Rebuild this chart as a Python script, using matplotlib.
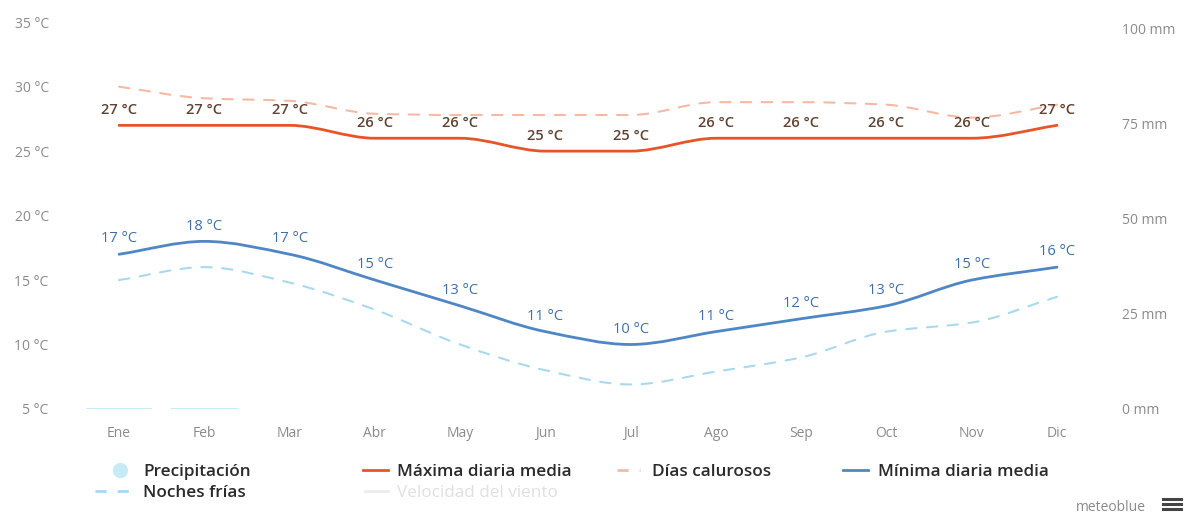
import matplotlib
matplotlib.use("Agg")
import matplotlib.pyplot as plt
import numpy as np
from matplotlib.path import Path
from matplotlib.patches import PathPatch
from matplotlib.lines import Line2D

plt.rcParams['font.family'] = ['Open Sans', 'DejaVu Sans']

months = ["Ene", "Feb", "Mar", "Abr", "May", "Jun", "Jul", "Ago", "Sep", "Oct", "Nov", "Dic"]
max_diaria = [27, 27, 27, 26, 26, 25, 25, 26, 26, 26, 26, 27]
min_diaria = [17, 18, 17, 15, 13, 11, 10, 11, 12, 13, 15, 16]
dias_calurosos = [30, 29.1, 28.9, 27.9, 27.8, 27.8, 27.8, 28.8, 28.8, 28.6, 27.6, 28.6]
noches_frias = [15, 16, 14.8, 12.7, 10, 8, 6.9, 7.9, 9, 11, 11.7, 13.7]
precipitacion = [0.3, 0.3, 0, 0, 0, 0, 0, 0, 0, 0, 0, 0]

c_max = "#e8542a"
c_min = "#4f86c6"
c_hot = "#f6b9a3"
c_cold = "#a9d9ef"
c_prec = "#c7ebf6"
c_tick = "#8a8a8a"


def smooth_path(x, y):
    # monotone cubic bezier through the points (Fritsch-Carlson tangents)
    x = np.asarray(x, float)
    y = np.asarray(y, float)
    d = np.diff(y) / np.diff(x)
    m = np.zeros_like(y)
    m[0], m[-1] = d[0], d[-1]
    for i in range(1, len(y) - 1):
        if d[i - 1] * d[i] > 0:
            m[i] = 2 / (1 / d[i - 1] + 1 / d[i])
    verts = [(x[0], y[0])]
    codes = [Path.MOVETO]
    for i in range(len(x) - 1):
        h = x[i + 1] - x[i]
        verts += [(x[i] + h / 3, y[i] + m[i] * h / 3),
                  (x[i + 1] - h / 3, y[i + 1] - m[i + 1] * h / 3),
                  (x[i + 1], y[i + 1])]
        codes += [Path.CURVE4] * 3
    return Path(verts, codes)


fig = plt.figure(figsize=(11.94, 5.17), dpi=100)
ax = fig.add_axes([0.064, 0.209, 0.857, 0.748])
ax2 = ax.twinx()

x = np.arange(len(months))

ax2.bar(x, precipitacion, width=0.78, color=c_prec, zorder=1)
ax2.set_ylim(0, 100 * 30 / 29.5)
ax2.set_yticks([0, 25, 50, 75, 100])
ax2.set_yticklabels(["0 mm", "25 mm", "50 mm", "75 mm", "100 mm"])

ax.set_zorder(ax2.get_zorder() + 1)
ax.patch.set_visible(False)

series = [
    (dias_calurosos, c_hot, (0, (5, 5)), 1.5),
    (noches_frias, c_cold, (0, (5, 5)), 1.5),
    (max_diaria, c_max, "-", 2.0),
    (min_diaria, c_min, "-", 2.0),
]
for vals, col, ls, lw in series:
    ax.add_patch(PathPatch(smooth_path(x, vals), facecolor="none", edgecolor=col,
                           linestyle=ls, linewidth=lw, capstyle="round"))

for xi, v in zip(x, max_diaria):
    ax.annotate(f"{v} °C", (xi, v), xytext=(0, 11), textcoords="offset points",
                ha="center", va="center", fontsize=10.5, color="#5e4232", fontweight="semibold")
for xi, v in zip(x, min_diaria):
    ax.annotate(f"{v} °C", (xi, v), xytext=(0, 11), textcoords="offset points",
                ha="center", va="center", fontsize=10.5, color="#3f6ea6", fontweight="medium")

ax.set_xlim(-0.5, 11.5)
ax.set_ylim(5, 35)
ax.set_xticks(x)
ax.set_xticklabels(months)
ax.set_yticks([5, 10, 15, 20, 25, 30, 35])
ax.set_yticklabels([f"{t} °C" for t in [5, 10, 15, 20, 25, 30, 35]])

for a in (ax, ax2):
    for s in a.spines.values():
        s.set_visible(False)
    a.tick_params(length=0, colors=c_tick, labelsize=10)
ax.tick_params(axis="y", pad=20)
ax.tick_params(axis="x", pad=12)
ax2.tick_params(axis="y", pad=16)

# legend, drawn by hand in figure coords
r1, r2 = 0.079, 0.038
fig.add_artist(Line2D([120 / 1194], [r1 + 0.012], transform=fig.transFigure,
                      marker="o", markersize=10, color=c_prec, linestyle="none"))
legend = [
    (95, 133, r2, c_cold, (0, (4, 4)), "Noches frías", 143, "#2a2a2a", "semibold"),
    (363, 388, r1, c_max, "-", "Máxima diaria media", 397, "#2a2a2a", "semibold"),
    (365, 388, r2, "#ececec", "-", "Velocidad del viento", 397, "#e0e0e0", "normal"),
    (617, 640, r1, c_hot, (0, (4, 4)), "Días calurosos", 652, "#2a2a2a", "semibold"),
    (843, 868, r1, c_min, "-", "Mínima diaria media", 878, "#2a2a2a", "semibold"),
]
for x0, x1, yy, col, ls, lab, tx, tc, fw in legend:
    fig.add_artist(Line2D([x0 / 1194, x1 / 1194], [yy + 0.012, yy + 0.012],
                          transform=fig.transFigure, color=col, linestyle=ls, linewidth=2))
    fig.text(tx / 1194, yy, lab, fontsize=12.3, color=tc, va="baseline", fontweight=fw)
fig.text(143 / 1194, r1, "Precipitación", fontsize=12.3, color="#2a2a2a", va="baseline",
         fontweight="semibold")

fig.text(1146 / 1194, 0.012, "meteoblue", fontsize=10, color="#8a8a8a", ha="right")
for dy in (0.0, 0.0095, 0.019):
    fig.add_artist(Line2D([1163 / 1194, 1181 / 1194], [0.015 + dy, 0.015 + dy],
                          transform=fig.transFigure, color="#444444", linewidth=2.2))

fig.savefig("out.png", dpi=100)
